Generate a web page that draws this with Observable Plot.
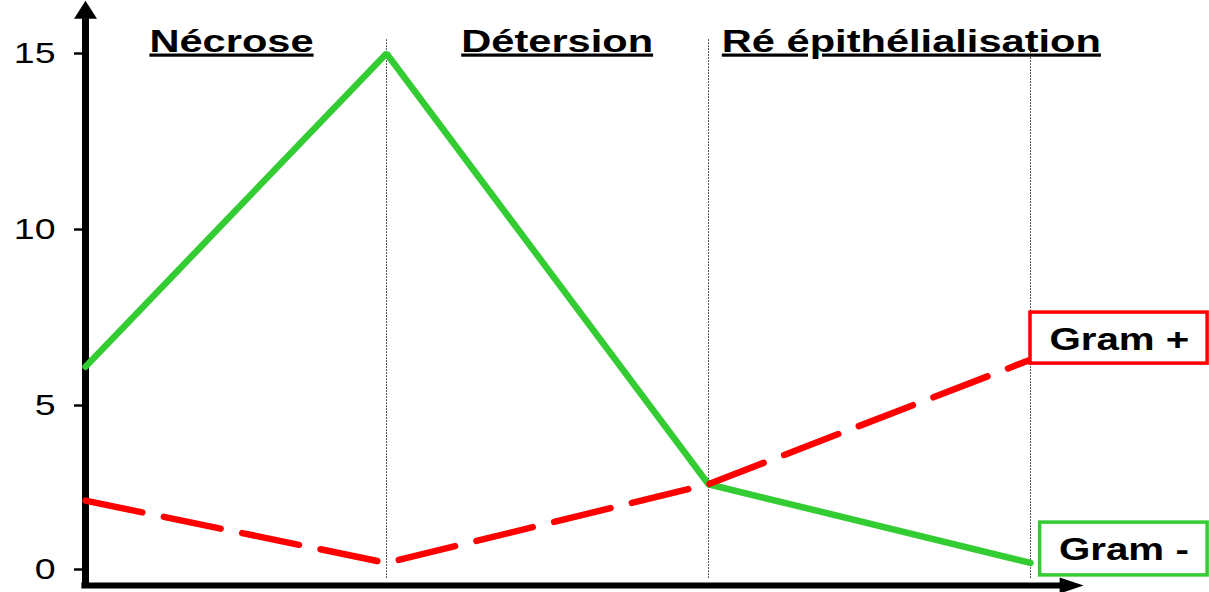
<!DOCTYPE html>
<html>
<head>
<meta charset="utf-8">
<script src="https://cdn.jsdelivr.net/npm/d3@7"></script>
<script src="https://cdn.jsdelivr.net/npm/@observablehq/plot@0.6"></script>
<style>
  html, body { margin: 0; padding: 0; background: #fff; }
  #chart svg { display: block; }
</style>
</head>
<body>
<div id="chart"></div>
<script>
// Healing phases and sampling points (0 = start, 1..3 = phase boundaries)
const phases = ["Nécrose", "Détersion", "Ré épithélialisation"];
const stages = [0, 1, 2, 3];
const gramNeg = [6.1, 15, 2.6, 0.2];   // Gram -
const gramPos = [2.1, 0.2, 2.6, 6.3];  // Gram +
const yTicks = [0, 5, 10, 15];
const seriesNames = ["Gram +", "Gram -"];

const GREEN = "#33cc33";
const RED = "#ff0000";
const FONT = "'Liberation Sans', Arial, Helvetica, sans-serif";
const STRETCH = 1.3;      // wide lettering
const TICK_STRETCH = 1.25;

const posRows = stages.map((s, i) => ({stage: s, value: gramPos[i]}));
const negRows = stages.map((s, i) => ({stage: s, value: gramNeg[i]}));

// layout (in data units)
const phaseX = [0.485, 1.53, 2.63];
const phaseY = 15.34;
const axisBottom = -0.49, axisTop = 15.99, arrowTop = 16.5, axisRight = 3.12, arrowRight = 3.165;
const boxes = [
  {name: seriesNames[0], color: RED,   x1: 3.0,  x2: 3.55, y1: 7.64, y2: 6.19, tx: 3.276, ty: 6.85},
  {name: seriesNames[1], color: GREEN, x1: 3.03, x2: 3.55, y1: 1.43, y2: -0.18, tx: 3.29, ty: 0.58}
];

// filled arrow heads, tip at the origin
const arrowUp = {draw(ctx) { ctx.moveTo(0, 0); ctx.lineTo(-11.5, 18); ctx.lineTo(11.5, 18); ctx.closePath(); }};
const arrowRightSym = {draw(ctx) { ctx.moveTo(0, 0); ctx.lineTo(-24, -8); ctx.lineTo(-24, 8); ctx.closePath(); }};

const svg = Plot.plot({
  width: 1209,
  height: 592,
  marginTop: 0, marginRight: 0, marginBottom: 0, marginLeft: 84,
  style: {fontFamily: FONT, background: "#fff", color: "#000", overflow: "visible"},
  x: {type: "linear", domain: [0, 1, 3], range: [85, 386, 1030], axis: null},
  y: {type: "linear", domain: [0, 5, 15], range: [569, 405, 53], axis: null},
  marks: [
    // phase boundaries
    Plot.ruleX([1, 2, 3], {y1: -0.27, y2: 15.43, stroke: "#222", strokeWidth: 1, strokeDasharray: "1.5,1.5"}),
    // y axis ticks and labels
    Plot.axisY(yTicks, {anchor: "left", tickSize: 10, tickPadding: 19, fontSize: 30, strokeWidth: 2.5, stroke: "#000", fill: "#000", label: null, tickFormat: d => String(d)}),
    // axes
    Plot.ruleX([0], {y1: axisBottom, y2: axisTop, stroke: "#000", strokeWidth: 7}),
    Plot.ruleY([axisBottom], {x1: -0.012, x2: axisRight, stroke: "#000", strokeWidth: 6}),
    Plot.dot([0], {x: 0, y: arrowTop, symbol: arrowUp, fill: "#000", stroke: null}),
    Plot.dot([0], {x: arrowRight, y: axisBottom, symbol: arrowRightSym, fill: "#000", stroke: null}),
    // series
    Plot.line(negRows, {x: "stage", y: "value", stroke: GREEN, strokeWidth: 6.5, strokeLinejoin: "miter"}),
    Plot.line(posRows, {x: "stage", y: "value", stroke: RED, strokeWidth: 6.5, strokeDasharray: "58,22"}),
    // phase titles
    Plot.text(phases, {x: (d, i) => phaseX[i], y: phaseY, text: d => d, fontSize: 32, fontWeight: "bold", fill: "#000"}),
    // series labels
    Plot.rect(boxes, {x1: "x1", x2: "x2", y1: "y1", y2: "y2", fill: "#fff", stroke: "color", strokeWidth: 3.5}),
    Plot.text(boxes, {x: "tx", y: "ty", text: "name", fontSize: 31, fontWeight: "bold", fill: "#000"})
  ]
});

// stretch lettering horizontally around each label's anchor
d3.select(svg).selectAll("text").each(function () {
  const t = d3.select(this);
  const label = t.text();
  const k = yTicks.map(String).includes(label) ? TICK_STRETCH : STRETCH;
  const x = parseFloat(t.attr("x"));
  if (Number.isFinite(x)) t.attr("x", x / k);
  const tr = t.attr("transform") || "";
  t.attr("transform", `${tr} scale(${k},1)`);
  if (phases.includes(label)) {
    t.style("text-decoration", "underline")
     .style("text-decoration-thickness", "4px")
     .style("text-underline-offset", "3px");
  }
});

document.getElementById("chart").appendChild(svg);
</script>
</body>
</html>
